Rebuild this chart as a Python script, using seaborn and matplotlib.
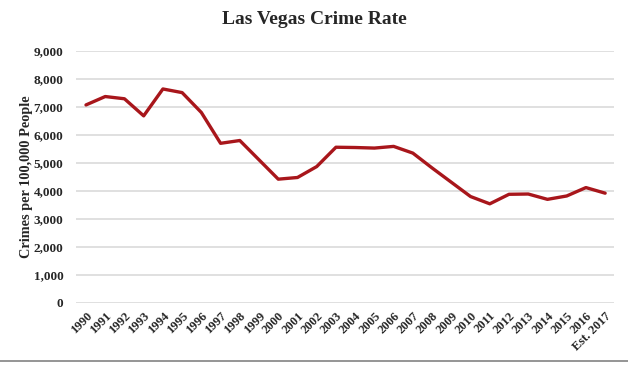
import pandas as pd
import seaborn as sns
import matplotlib.pyplot as plt
from matplotlib.lines import Line2D
from matplotlib.ticker import FuncFormatter

# Data
years = ['1990', '1991', '1992', '1993', '1994', '1995', '1996', '1997', '1998', '1999',
         '2000', '2001', '2002', '2003', '2004', '2005', '2006', '2007', '2008', '2009',
         '2010', '2011', '2012', '2013', '2014', '2015', '2016', 'Est. 2017']
crime_rate = [7070, 7370, 7290, 6680, 7640, 7510, 6800, 5700, 5800, 5110,
              4420, 4480, 4870, 5560, 5550, 5530, 5590, 5350, 4820, 4310,
              3800, 3540, 3880, 3890, 3700, 3820, 4120, 3920]

df = pd.DataFrame({'year': years, 'rate': crime_rate})
df['pos'] = range(len(df))

sns.set_style('white')
plt.rcParams['font.family'] = ['Liberation Serif', 'DejaVu Serif']

fig = plt.figure(figsize=(6.28, 3.67), dpi=100)
ax = fig.add_axes([0.121, 0.1744, 0.857, 0.687])

sns.lineplot(data=df, x='pos', y='rate', ax=ax, color='#A8161B', linewidth=2.4)

ax.set_ylim(0, 9000)
ax.set_xlim(-0.52, 27.47)
ax.set_yticks(range(0, 9001, 1000))
ax.yaxis.set_major_formatter(FuncFormatter(lambda v, p: f'{int(v):,}'))
ax.set_xticks(df['pos'])
ax.set_xticklabels(df['year'], rotation=45, ha='right', rotation_mode='anchor',
                   fontsize=9, fontweight='bold')
for lbl in ax.get_yticklabels():
    lbl.set_fontsize(9.5)
    lbl.set_fontweight('bold')
ax.tick_params(axis='x', length=0, pad=5)
ax.tick_params(axis='y', length=0, pad=9)

ax.grid(axis='y', color='#DADADA', linewidth=1.2)
ax.set_axisbelow(True)
for s in ax.spines.values():
    s.set_visible(False)

ax.set_xlabel('')
ax.set_ylabel('Crimes per 100,000 People', fontsize=10.3, fontweight='bold')
ax.yaxis.set_label_coords(-0.08, 0.5)
fig.suptitle('Las Vegas Crime Rate', fontsize=14, fontweight='bold', y=0.97)

# gray rule along the bottom of the image
fig.add_artist(Line2D([0, 1], [0.016, 0.016], color='#8C8C8C', linewidth=1.3,
                      transform=fig.transFigure))

fig.savefig('out.png', dpi=100)
